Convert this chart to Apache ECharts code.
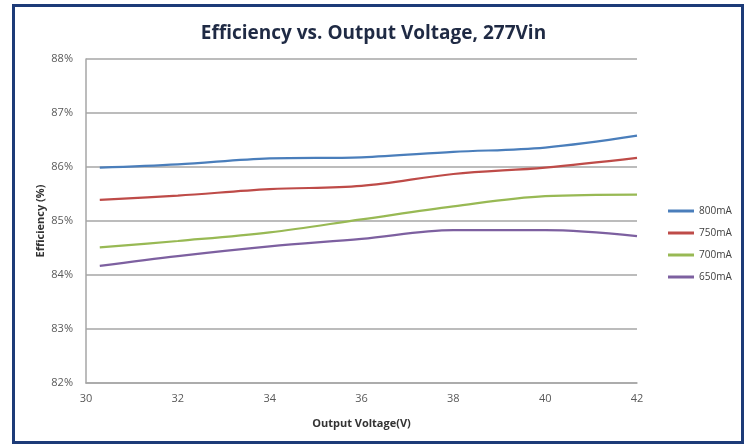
<!DOCTYPE html>
<html>
<head>
<meta charset="utf-8">
<script src="https://cdn.jsdelivr.net/npm/echarts@6/dist/echarts.min.js"></script>
<style>
  html, body { margin: 0; padding: 0; background: #fff; }
  #wrap { position: relative; width: 747px; height: 445px; }
  #frame {
    position: absolute; left: 12px; top: 4px; width: 726px; height: 434px;
    border: 3px solid #1d3b78; box-sizing: content-box; pointer-events: none;
  }
  #chart { position: absolute; left: 0; top: 0; width: 747px; height: 445px; }
</style>
</head>
<body>
<div id="wrap">
  <div id="chart"></div>
  <div id="frame"></div>
</div>
<script>
// values
const voltages = [30.3, 32, 34, 36, 38, 40, 42];
const eff800 = [85.99, 86.05, 86.16, 86.18, 86.28, 86.36, 86.58];
const eff750 = [85.39, 85.47, 85.59, 85.65, 85.87, 85.99, 86.17];
const eff700 = [84.51, 84.63, 84.79, 85.03, 85.27, 85.46, 85.49];
const eff650 = [84.17, 84.35, 84.53, 84.67, 84.83, 84.83, 84.72];
const seriesNames = ['800mA', '750mA', '700mA', '650mA'];
const colors = ['#4a7ebb', '#be4b48', '#98b954', '#7d60a0'];

const font = 'Open Sans, Noto Sans, sans-serif';
const chart = echarts.init(document.getElementById('chart'), null, { renderer: 'canvas' });

const pairs = (ys) => voltages.map((v, i) => [v, ys[i]]);

chart.setOption({
  animation: false,
  color: colors,
  title: {
    text: 'Efficiency vs. Output Voltage, 277Vin',
    left: 'center',
    top: 19,
    textStyle: { fontFamily: font, fontSize: 19, fontWeight: 'bold', color: '#1f2a44' }
  },
  grid: { left: 86, right: 110, top: 59, bottom: 62, containLabel: false, outerBoundsMode: 'none' },
  legend: {
    orient: 'vertical',
    left: 663,
    top: 201,
    itemWidth: 26,
    itemHeight: 3,
    itemGap: 12,
    icon: 'rect',
    textStyle: { fontFamily: font, fontSize: 10, color: '#404040' },
    data: seriesNames
  },
  xAxis: {
    type: 'value',
    min: 30,
    max: 42,
    interval: 2,
    name: 'Output Voltage(V)',
    nameLocation: 'middle',
    nameGap: 35,
    nameTextStyle: { fontFamily: font, fontSize: 11, fontWeight: 'bold', color: '#333' },
    axisLine: { lineStyle: { color: '#a6a6a6', width: 1.5 } },
    axisTick: { show: false },
    splitLine: { show: false },
    axisLabel: { fontFamily: font, fontSize: 11, color: '#595959', margin: 10 }
  },
  yAxis: {
    type: 'value',
    min: 82,
    max: 88,
    interval: 1,
    name: 'Efficiency (%)',
    nameLocation: 'middle',
    nameGap: 40,
    nameMoveOverlap: false,
    nameTextStyle: { fontFamily: font, fontSize: 11, fontWeight: 'bold', color: '#333' },
    axisLine: { show: true, lineStyle: { color: '#a6a6a6', width: 1.5 } },
    axisTick: { show: false },
    splitLine: { lineStyle: { color: '#a6a6a6', width: 1.5 } },
    axisLabel: { fontFamily: font, fontSize: 11, color: '#595959', margin: 13, formatter: '{value}%' }
  },
  series: [eff800, eff750, eff700, eff650].map((ys, i) => ({
    name: seriesNames[i],
    type: 'line',
    smooth: 0.35,
    showSymbol: false,
    lineStyle: { width: 2.2 },
    data: pairs(ys)
  }))
});
</script>
</body>
</html>
